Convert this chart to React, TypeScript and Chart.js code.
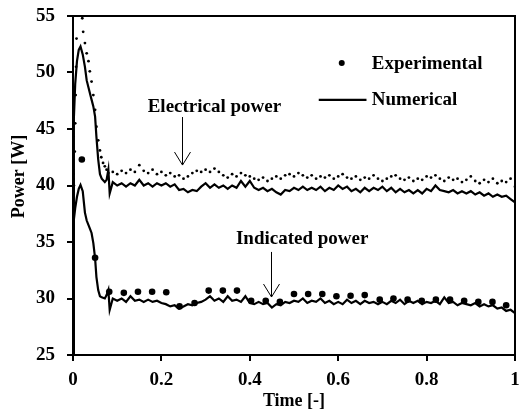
import React, { useEffect, useRef } from "react";
import { Chart, registerables } from "chart.js";

Chart.register(...registerables);

// ---------- DATA ----------
const elecExpTime = [
  0, 0.002, 0.004, 0.005, 0.006, 0.007, 0.008, 0.009, 0.012, 0.016, 0.019, 0.021, 0.023, 0.027,
  0.031, 0.035, 0.038, 0.042, 0.046, 0.05, 0.053, 0.057, 0.061, 0.064, 0.068, 0.072, 0.076,
  0.08, 0.09, 0.1, 0.11, 0.12, 0.13, 0.14, 0.15, 0.16, 0.17, 0.18, 0.19, 0.2, 0.21, 0.22, 0.23,
  0.24, 0.25, 0.26, 0.27, 0.28, 0.29, 0.3, 0.31, 0.32, 0.33, 0.34, 0.35, 0.36, 0.37, 0.38, 0.39,
  0.4, 0.41, 0.42, 0.43, 0.44, 0.45, 0.46, 0.47, 0.48, 0.49, 0.5, 0.51, 0.52, 0.53, 0.54, 0.55,
  0.56, 0.57, 0.58, 0.59, 0.6, 0.61, 0.62, 0.63, 0.64, 0.65, 0.66, 0.67, 0.68, 0.69, 0.7, 0.71,
  0.72, 0.73, 0.74, 0.75, 0.76, 0.77, 0.78, 0.79, 0.8, 0.81, 0.82, 0.83, 0.84, 0.85, 0.86, 0.87,
  0.88, 0.89, 0.9, 0.91, 0.92, 0.93, 0.94, 0.95, 0.96, 0.97, 0.98, 0.99, 1.0,
];
const elecExpPower = [
  36, 40, 43, 45.5, 48, 50.5, 53, 55.5, 58, 58, 56, 54.8, 53.6, 52.6,
  51.7, 51, 50.1, 49.2, 48, 46.7, 45.2, 44, 43.1, 42.5, 42, 41.7, 41.4,
  41.1, 41.2, 41.0, 41.3, 41.1, 41.4, 41.2, 41.8, 41.3, 41.1, 41.4, 41.0, 41.2, 40.9, 41.1, 40.8,
  40.9, 40.6, 40.8, 41.1, 41.3, 41.2, 41.4, 41.2, 41.5, 41.2, 40.9, 40.7, 41.0, 40.8, 41.1, 40.9,
  40.8, 40.6, 40.5, 40.7, 40.4, 40.6, 40.8, 40.6, 40.9, 41.0, 40.8, 41.1, 40.9, 40.7, 40.9, 40.6,
  40.8, 40.7, 40.9, 40.6, 40.8, 41.0, 40.7, 40.6, 40.8, 40.5, 40.7, 40.6, 40.9, 40.6, 40.4, 40.6,
  40.8, 40.9, 40.6, 40.5, 40.7, 40.4, 40.6, 40.5, 40.8, 40.7, 40.9, 40.6, 40.4, 40.7, 40.5, 40.6,
  40.3, 40.5, 40.8, 40.4, 40.2, 40.5, 40.3, 40.6, 40.2, 40.4, 40.3, 40.6, 39.9,
];

const numTime = [
  0, 0.002, 0.005, 0.009, 0.013, 0.017, 0.022, 0.027, 0.031, 0.038, 0.042, 0.046, 0.05, 0.053,
  0.057, 0.061, 0.065, 0.072, 0.076, 0.08, 0.083,
  0.09, 0.1, 0.11, 0.12, 0.13, 0.14, 0.15, 0.16, 0.17, 0.18, 0.19, 0.2, 0.21, 0.22, 0.23,
  0.24, 0.25, 0.26, 0.27, 0.28, 0.29, 0.3, 0.31, 0.32, 0.33, 0.34, 0.35, 0.36, 0.37, 0.38, 0.39,
  0.4, 0.41, 0.42, 0.43, 0.44, 0.45, 0.46, 0.47, 0.48, 0.49, 0.5, 0.51, 0.52, 0.53, 0.54, 0.55,
  0.56, 0.57, 0.58, 0.59, 0.6, 0.61, 0.62, 0.63, 0.64, 0.65, 0.66, 0.67, 0.68, 0.69, 0.7, 0.71,
  0.72, 0.73, 0.74, 0.75, 0.76, 0.77, 0.78, 0.79, 0.8, 0.81, 0.82, 0.83, 0.84, 0.85, 0.86, 0.87,
  0.88, 0.89, 0.9, 0.91, 0.92, 0.93, 0.94, 0.95, 0.96, 0.97, 0.98, 0.99, 1.0,
];
const elecNumPower = [
  25, 46, 49, 51, 52, 52.3, 51.6, 50.5, 49.3, 48.2, 47.6, 47.0, 46.1, 44.3,
  42.3, 41.0, 40.6, 40.3, 40.5, 41.4, 39.3,
  40.3, 40.0, 40.2, 39.9, 40.2, 40.0, 40.5, 40.0, 40.2, 39.9, 40.2, 40.0, 40.2, 39.9, 40.1,
  39.6, 39.7, 39.4, 39.6, 39.5, 39.9, 40.2, 39.8, 40.1, 39.8, 40.0, 39.7, 40.0, 39.8, 40.4, 39.9,
  40.4, 39.8, 39.6, 39.8, 39.5, 39.7, 39.4, 39.2, 39.6, 39.5, 39.8, 39.6, 39.9, 39.6, 39.8, 39.6,
  39.9, 39.5, 39.8, 39.6, 40.0, 39.7, 39.9, 39.5, 39.7, 39.4, 39.8, 39.5, 39.8, 39.6, 39.9, 39.5,
  39.8, 39.4, 39.7, 39.4, 39.6, 39.3, 39.6, 39.3, 39.7, 39.5, 40.0, 39.6, 39.5, 39.4, 39.6, 39.3,
  39.5, 39.3, 39.5, 39.2, 39.4, 39.1, 39.3, 39.0, 39.2, 39.0, 39.1, 38.8, 38.5,
];
const indNumPower = [
  25, 37.0, 38.0, 39.0, 39.7, 40.05, 39.5, 37.6, 36.9, 36.2, 35.8, 34.9, 33.55, 31.9,
  30.75, 30.2, 30.1, 30.0, 30.3, 30.75, 29.0,
  30.0, 29.8, 30.0, 29.7, 30.2, 29.8, 29.9, 29.7, 29.9, 29.7, 29.8, 29.6, 29.5, 29.3, 29.4,
  29.1, 29.3, 29.5, 29.4, 29.6, 29.7, 29.9, 30.2, 29.8, 30.0, 29.7, 30.2, 29.8, 29.9, 29.7, 30.2,
  29.6, 29.5, 29.7, 29.5, 29.6, 29.2, 29.5, 29.4, 29.7, 29.6, 29.8, 29.7, 30.0, 29.6, 29.8, 29.7,
  30.0, 29.6, 29.8, 29.5, 29.7, 29.5, 29.9, 29.6, 29.8, 29.5, 29.8, 29.6, 29.7, 29.5, 29.7, 29.5,
  29.8, 29.6, 29.9, 29.5, 29.8, 29.6, 29.8, 29.5, 29.7, 29.6, 29.8, 29.5, 30.1, 29.6, 29.7, 29.4,
  29.6, 29.5, 29.4, 29.6, 29.3, 29.5, 29.3, 29.4, 29.1, 29.2, 28.9, 29.0, 28.7,
];

const indExpTime = [
  0.02, 0.05, 0.082, 0.115, 0.147, 0.179, 0.211, 0.241, 0.275, 0.307, 0.339, 0.371, 0.403,
  0.436, 0.468, 0.5, 0.532, 0.564, 0.596, 0.628, 0.66, 0.694, 0.725, 0.757, 0.789, 0.821,
  0.853, 0.885, 0.917, 0.949, 0.98,
];
const indExpPower = [
  42.3, 33.6, 30.6, 30.5, 30.6, 30.6, 30.55, 29.3, 29.6, 30.7, 30.7, 30.7, 29.8,
  29.8, 29.7, 30.4, 30.4, 30.4, 30.2, 30.25, 30.3, 29.9, 30.0, 29.9, 29.8, 29.9,
  29.9, 29.8, 29.7, 29.7, 29.4,
];

const xTickValues = [0, 0.2, 0.4, 0.6, 0.8, 1];
const xTickLabels = ["0", "0.2", "0.4", "0.6", "0.8", "1"];
const yTickValues = [25, 30, 35, 40, 45, 50, 55];
const yTickLabels = ["25", "30", "35", "40", "45", "50", "55"];

const legendLabels = ["Experimental", "Numerical"];
const annotationLabels = ["Electrical power", "Indicated power"];

const FONT = "'Liberation Serif', 'Times New Roman', serif";

const toPoints = (xs: number[], ys: number[]) => xs.map((x, i) => ({ x, y: ys[i] }));

const zeroPad = (s: any) => {
  s.paddingLeft = 0;
  s.paddingRight = 0;
  s.paddingTop = 0;
  s.paddingBottom = 0;
};

const overlayPlugin = {
  id: "overlay",
  afterDatasetsDraw(chart: any) {
    const { ctx } = chart;
    const xs = chart.scales.x;
    const ys = chart.scales.y;
    const px = (t: number) => xs.getPixelForValue(t);
    const py = (v: number) => ys.getPixelForValue(v);
    ctx.save();
    ctx.fillStyle = "#000";
    ctx.strokeStyle = "#000";
    ctx.font = `bold 19px ${FONT}`;
    ctx.textBaseline = "alphabetic";
    ctx.textAlign = "left";

    // legend
    ctx.beginPath();
    ctx.arc(px(0.608), py(50.84), 3, 0, Math.PI * 2);
    ctx.fill();
    ctx.fillText(legendLabels[0], px(0.676), py(50.35));
    ctx.lineWidth = 2.2;
    ctx.beginPath();
    ctx.moveTo(px(0.556), py(47.57));
    ctx.lineTo(px(0.664), py(47.57));
    ctx.stroke();
    ctx.fillText(legendLabels[1], px(0.676), py(47.12));

    // annotations
    ctx.fillText(annotationLabels[0], px(0.169), py(46.5));
    ctx.fillText(annotationLabels[1], px(0.3687), py(34.8));

    const arrow = (t: number, v0: number, v1: number) => {
      const x = Math.round(px(t)) + 0.5;
      const y0 = py(v0);
      const y1 = py(v1);
      ctx.lineWidth = 1;
      ctx.beginPath();
      ctx.moveTo(x, y0);
      ctx.lineTo(x, y1);
      ctx.moveTo(x - 8, y1 - 13);
      ctx.lineTo(x, y1);
      ctx.lineTo(x + 8, y1 - 13);
      ctx.stroke();
    };
    arrow(0.2477, 46.06, 41.81);
    arrow(0.4475, 34.12, 30.13);
    ctx.restore();
  },
};

export default function App() {
  const ref = useRef<HTMLCanvasElement | null>(null);

  useEffect(() => {
    if (!ref.current) return;
    const tickFont = { family: FONT, size: 19, weight: "bold" as const };
    const chart = new Chart(ref.current, {
      type: "line",
      data: {
        datasets: [
          {
            label: "Electrical experimental",
            data: toPoints(elecExpTime, elecExpPower),
            showLine: false,
            pointRadius: 1.4,
            pointBackgroundColor: "#000",
            pointBorderWidth: 0,
            borderColor: "#000",
          },
          {
            label: "Electrical numerical",
            data: toPoints(numTime, elecNumPower),
            borderColor: "#000",
            borderWidth: 2.2,
            pointRadius: 0,
            tension: 0,
          },
          {
            label: "Indicated experimental",
            data: toPoints(indExpTime, indExpPower),
            showLine: false,
            pointRadius: 3.3,
            pointBackgroundColor: "#000",
            pointBorderWidth: 0,
            borderColor: "#000",
          },
          {
            label: "Indicated numerical",
            data: toPoints(numTime, indNumPower),
            borderColor: "#000",
            borderWidth: 2.2,
            pointRadius: 0,
            tension: 0,
          },
        ],
      },
      options: {
        animation: false,
        responsive: true,
        maintainAspectRatio: false,
        devicePixelRatio: 1,
        layout: { padding: 0 },
        plugins: { legend: { display: false }, tooltip: { enabled: false } },
        scales: {
          x: {
            type: "linear",
            position: "bottom",
            min: 0,
            max: 1,
            afterBuildTicks: (s: any) => {
              s.ticks = xTickValues.map((value) => ({ value }));
            },
            afterFit: (s: any) => {
              s.height = 57;
              zeroPad(s);
            },
            ticks: {
              color: "#000",
              font: tickFont,
              padding: 8,
              maxRotation: 0,
              autoSkip: false,
              callback: (v: any) => xTickLabels[xTickValues.indexOf(Number(v))] ?? "",
            },
            grid: {
              display: true,
              drawOnChartArea: false,
              drawTicks: true,
              tickLength: 6,
              color: "#000",
              lineWidth: 2,
            },
            border: { display: true, color: "#000", width: 2 },
            title: {
              display: true,
              text: "Time [-]",
              color: "#000",
              font: { family: FONT, size: 18, weight: "bold" },
              padding: 0,
            },
          },
          y: {
            type: "linear",
            position: "left",
            min: 25,
            max: 55,
            afterBuildTicks: (s: any) => {
              s.ticks = yTickValues.map((value) => ({ value }));
            },
            afterFit: (s: any) => {
              s.width = 73;
              zeroPad(s);
            },
            ticks: {
              color: "#000",
              font: tickFont,
              padding: 12,
              autoSkip: false,
              callback: (v: any) => yTickLabels[yTickValues.indexOf(Number(v))] ?? "",
            },
            grid: {
              display: true,
              drawOnChartArea: false,
              drawTicks: true,
              tickLength: 6,
              color: "#000",
              lineWidth: 2,
            },
            border: { display: true, color: "#000", width: 2 },
            title: {
              display: true,
              text: "    Power [W]",
              color: "#000",
              font: { family: FONT, size: 18, weight: "bold" },
              padding: { top: 9, bottom: 0 },
            },
          },
          x2: {
            type: "linear",
            position: "top",
            min: 0,
            max: 1,
            ticks: { display: false },
            grid: { display: false, drawTicks: false },
            border: { display: true, color: "#000", width: 2 },
            afterFit: (s: any) => {
              s.height = 16;
              zeroPad(s);
            },
          },
          y2: {
            type: "linear",
            position: "right",
            min: 25,
            max: 55,
            ticks: { display: false },
            grid: { display: false, drawTicks: false },
            border: { display: true, color: "#000", width: 2 },
            afterFit: (s: any) => {
              s.width = 2;
              zeroPad(s);
            },
          },
        },
      } as any,
      plugins: [overlayPlugin],
    });
    return () => chart.destroy();
  }, []);

  return (
    <div style={{ position: "absolute", left: 0, top: 0, width: 519, height: 412 }}>
      <canvas ref={ref} />
    </div>
  );
}
